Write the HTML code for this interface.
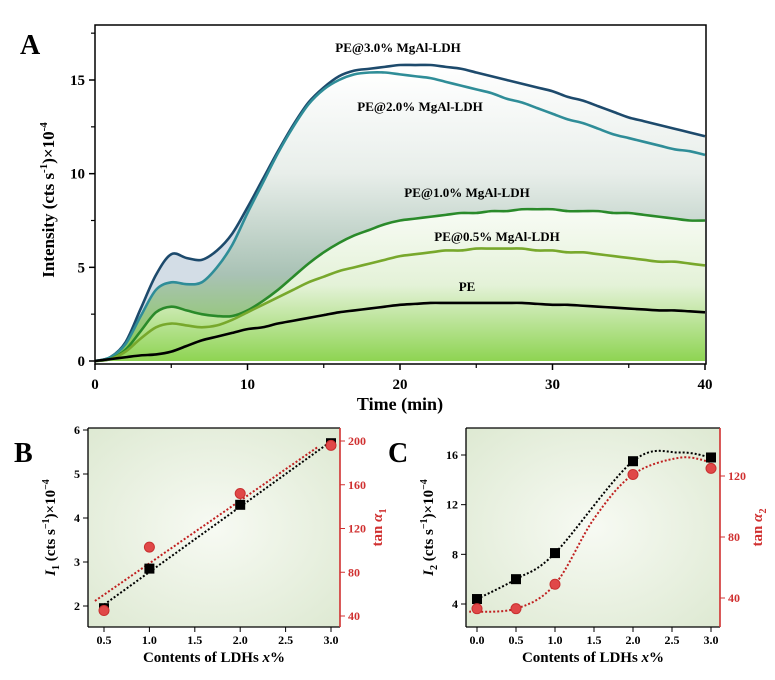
<!DOCTYPE html>
<html><head><meta charset="utf-8">
<style>
html,body{margin:0;padding:0;background:#fff;}
svg{display:block;font-family:"Liberation Serif",serif;font-weight:bold;}
</style></head>
<body>
<svg id="fig" width="775" height="680" viewBox="0 0 775 680">
<defs>
<linearGradient id="gA" x1="0" y1="0" x2="0" y2="1">
<stop offset="0" stop-color="#ffffff"/><stop offset="0.35" stop-color="#e8eeea"/>
<stop offset="0.7" stop-color="#a9c2b5"/><stop offset="1" stop-color="#86cc4c"/>
</linearGradient>
<linearGradient id="gB" x1="0" y1="0" x2="0" y2="1">
<stop offset="0" stop-color="#f8fbf5"/><stop offset="0.5" stop-color="#e4f2d8"/>
<stop offset="1" stop-color="#8ed452"/>
</linearGradient>
<radialGradient id="gP" cx="0.5" cy="0.5" r="0.75">
<stop offset="0" stop-color="#f7faf3"/><stop offset="1" stop-color="#dce8d0"/>
</radialGradient>
</defs>
<g id="A"></g>
<g id="B"></g>
<g id="C"></g>
</svg>
<script>
// Panel A data (time 0..40 min, step 1)
const timeA = Array.from({length:41},(_,i)=>i);
const s30 = [0,0.2,1.0,2.8,4.6,5.7,5.5,5.4,5.9,6.8,8.2,9.7,11.2,12.6,13.8,14.6,15.2,15.5,15.6,15.7,15.8,15.8,15.8,15.7,15.6,15.4,15.2,15.0,14.8,14.6,14.4,14.1,13.9,13.6,13.3,13.0,12.8,12.6,12.4,12.2,12.0];
const s20 = [0,0.2,0.9,2.4,3.8,4.2,4.1,4.2,5.0,6.2,7.9,9.5,11.1,12.5,13.7,14.5,15.0,15.3,15.4,15.4,15.3,15.2,15.1,14.9,14.7,14.5,14.3,14.0,13.8,13.5,13.2,12.9,12.7,12.4,12.1,11.9,11.7,11.5,11.3,11.2,11.0];
const s10 = [0,0.1,0.6,1.6,2.6,2.9,2.7,2.5,2.4,2.4,2.7,3.2,3.8,4.5,5.2,5.8,6.3,6.7,7.0,7.3,7.5,7.6,7.7,7.8,7.9,7.9,8.0,8.0,8.1,8.1,8.1,8.0,8.0,8.0,7.9,7.9,7.8,7.7,7.6,7.5,7.5];
const s05 = [0,0.1,0.5,1.2,1.8,2.0,1.9,1.8,1.9,2.2,2.6,3.0,3.4,3.8,4.2,4.5,4.8,5.0,5.2,5.4,5.6,5.7,5.8,5.9,5.9,6.0,6.0,6.0,6.0,5.9,5.9,5.8,5.8,5.7,5.6,5.5,5.4,5.3,5.3,5.2,5.1];
const sPE = [0,0.1,0.2,0.3,0.35,0.5,0.8,1.1,1.3,1.5,1.7,1.8,2.0,2.15,2.3,2.45,2.6,2.7,2.8,2.9,3.0,3.05,3.1,3.1,3.1,3.1,3.1,3.1,3.1,3.05,3.0,3.0,2.95,2.9,2.85,2.8,2.75,2.7,2.7,2.65,2.6];
const xTicksA = [0,10,20,30,40];
const yTicksA = [0,5,10,15];
// Panel B data
const contB = [0.5,1.0,2.0,3.0];
const i1B = [1.95,2.85,4.3,5.7];
const tanB = [45,103,152,196];
const xTicksB = [0.5,1.0,1.5,2.0,2.5,3.0];
const yTicksB = [2,3,4,5,6];
const rTicksB = [40,80,120,160,200];
// Panel C data
const contC = [0,0.5,1.0,2.0,3.0];
const i2C = [4.4,6.0,8.1,15.5,15.8];
const tanC = [33,33,49,121,125];
const xTicksC = [0.0,0.5,1.0,1.5,2.0,2.5,3.0];
const yTicksC = [4,8,12,16];
const rTicksC = [40,80,120];

const NS='http://www.w3.org/2000/svg';
function mk(parent,tag,attrs,text){const e=document.createElementNS(NS,tag);for(const k in attrs)e.setAttribute(k,attrs[k]);if(text!==undefined)e.textContent=text;parent.appendChild(e);return e;}
function lin(d0,d1,r0,r1){return v=>r0+(v-d0)*(r1-r0)/(d1-d0);}
function smooth(pts,noM){let d=(noM?' L':'M')+pts[0][0]+','+pts[0][1];for(let i=0;i<pts.length-1;i++){const p0=pts[Math.max(0,i-1)],p1=pts[i],p2=pts[i+1],p3=pts[Math.min(pts.length-1,i+2)];d+=' C'+(p1[0]+(p2[0]-p0[0])/6)+','+(p1[1]+(p2[1]-p0[1])/6)+' '+(p2[0]-(p3[0]-p1[0])/6)+','+(p2[1]-(p3[1]-p1[1])/6)+' '+p2[0]+','+p2[1];}return d;}

// ---------- Panel A ----------
(function(){
const g=document.getElementById('A');
const L=95,R=706,T=25,Bt=364;
const x=lin(0,40,95,705), y=lin(0,15,361,80);
const pts=s=>timeA.map((t,i)=>[x(t),y(s[i])]);
const area=(s,fill,name)=>{const p=pts(s);const e=mk(g,'path',{d:smooth(p)+' L'+x(40)+','+y(0)+' L'+x(0)+','+y(0)+' Z',fill:fill});

};
area(s30,'url(#gA)','fill-3pct');
// bluish band between 3.0% and 2.0% in early region
const upper=pts(s30).slice(0,11), lower=pts(s20).slice(0,11).reverse();
const band=mk(g,'path',{d:smooth(upper)+smooth(lower,true)+' Z',fill:'#d3dde6'});


area(s20,'url(#gA)','fill-2pct');
area(s10,'url(#gB)','fill-1pct');
const series=[[s30,'#1d4a6c','line-3pct'],[s20,'#2f8d98','line-2pct'],[s10,'#2a8a2a','line-1pct'],[s05,'#78a82c','line-05pct'],[sPE,'#000000','line-pe']];
series.forEach(([s,c,n])=>{const e=mk(g,'path',{d:smooth(pts(s)),fill:'none',stroke:c,'stroke-width':2.6});

});
mk(g,'rect',{x:L,y:T,width:R-L,height:Bt-T,fill:'none',stroke:'#000','stroke-width':1.5,});
xTicksA.forEach(v=>{mk(g,'line',{x1:x(v),x2:x(v),y1:Bt,y2:Bt+6,stroke:'#000','stroke-width':1.5});
const t=mk(g,'text',{x:x(v),y:Bt+25,'text-anchor':'middle','font-size':15},v);

});
[5,15,25,35].forEach(v=>mk(g,'line',{x1:x(v),x2:x(v),y1:Bt,y2:Bt+4,stroke:'#000','stroke-width':1.2}));
yTicksA.forEach(v=>{mk(g,'line',{x1:L,x2:L-6,y1:y(v),y2:y(v),stroke:'#000','stroke-width':1.5});
const t=mk(g,'text',{x:L-10,y:y(v)+5,'text-anchor':'end','font-size':15},v);

});
[2.5,7.5,12.5,17.5].forEach(v=>mk(g,'line',{x1:L,x2:L-4,y1:y(v),y2:y(v),stroke:'#000','stroke-width':1.2}));
mk(g,'text',{x:20,y:54,'font-size':28,},'A');
mk(g,'text',{x:400,y:410,'text-anchor':'middle','font-size':18,},'Time (min)');
const yt=mk(g,'text',{transform:'translate(54,200) rotate(-90)','text-anchor':'middle','font-size':17,});
yt.innerHTML='Intensity (cts s<tspan dy="-7" font-size="11">-1</tspan><tspan dy="7">)×10</tspan><tspan dy="-7" font-size="11">-4</tspan>';
[['PE@3.0% MgAl-LDH',398,52],['PE@2.0% MgAl-LDH',420,111],['PE@1.0% MgAl-LDH',467,197],['PE@0.5% MgAl-LDH',497,241],['PE',467,291]].forEach(([s,a,b])=>{
const t=mk(g,'text',{x:a,y:b,'text-anchor':'middle','font-size':13},s);

});
})();

// ---------- Panels B and C ----------
function panel(id,o){
const g=document.getElementById(id);
const {L,R,T,Bt}=o;
const x=lin(o.x0,o.x1,o.px0,o.px1), y=lin(o.y0,o.y1,o.py0,o.py1), yr=lin(o.r0,o.r1,o.pr0,o.pr1);
mk(g,'rect',{x:L,y:T,width:R-L,height:Bt-T,fill:'url(#gP)',});
o.fit(g,x,y,yr);
o.xs.forEach((v,i)=>{const e=mk(g,'rect',{x:x(v)-5,y:y(o.ys[i])-5,width:10,height:10,fill:'#000'});

});
o.xs.forEach((v,i)=>{const e=mk(g,'circle',{cx:x(v),cy:yr(o.rs[i]),r:5,fill:'#e04848',stroke:'#c83030','stroke-width':1});

});
mk(g,'line',{x1:L,x2:L,y1:T,y2:Bt,stroke:'#000','stroke-width':1.3});
mk(g,'line',{x1:L,x2:R,y1:Bt,y2:Bt,stroke:'#000','stroke-width':1.3});
mk(g,'line',{x1:L,x2:R,y1:T,y2:T,stroke:'#000','stroke-width':1.3});
mk(g,'line',{x1:R,x2:R,y1:T,y2:Bt,stroke:'#d03030','stroke-width':1.6,});
o.xt.forEach(v=>{mk(g,'line',{x1:x(v),x2:x(v),y1:Bt,y2:Bt+5,stroke:'#000'});
const t=mk(g,'text',{x:x(v),y:Bt+17,'text-anchor':'middle','font-size':12},v.toFixed(1));

});
o.yt.forEach(v=>{mk(g,'line',{x1:L,x2:L-5,y1:y(v),y2:y(v),stroke:'#000'});
const t=mk(g,'text',{x:L-8,y:y(v)+4,'text-anchor':'end','font-size':12},v);

});
o.rt.forEach(v=>{mk(g,'line',{x1:R,x2:R+5,y1:yr(v),y2:yr(v),stroke:'#d03030'});
const t=mk(g,'text',{x:R+8,y:yr(v)+4,'font-size':12,fill:'#d03030'},v);

});
mk(g,'text',{x:o.lx,y:462,'font-size':28,},o.label);
const xt=mk(g,'text',{x:(L+R)/2,y:Bt+35,'text-anchor':'middle','font-size':15,});
xt.innerHTML='Contents of LDHs <tspan font-style="italic">x</tspan>%';
const lt=mk(g,'text',{transform:'translate('+(L-33)+','+((T+Bt)/2)+') rotate(-90)','text-anchor':'middle','font-size':15,});
lt.innerHTML='<tspan font-style="italic">I</tspan><tspan dy="4" font-size="10">'+o.sub+'</tspan><tspan dy="-4"> (cts s</tspan><tspan dy="-6" font-size="10">−1</tspan><tspan dy="6">)×10</tspan><tspan dy="-6" font-size="10">−4</tspan>';
const rt=mk(g,'text',{transform:'translate('+(R+42)+','+((T+Bt)/2)+') rotate(-90)','text-anchor':'middle','font-size':15,fill:'#d03030',});
rt.innerHTML='tan <tspan font-style="italic">α</tspan><tspan dy="4" font-size="10">'+o.sub+'</tspan>';
}
function regress(xs,ys){const n=xs.length,mx=xs.reduce((a,b)=>a+b)/n,my=ys.reduce((a,b)=>a+b)/n;let sxy=0,sxx=0;xs.forEach((v,i)=>{sxy+=(v-mx)*(ys[i]-my);sxx+=(v-mx)*(v-mx);});const m=sxy/sxx;return v=>my+m*(v-mx);}
panel('B',{L:88,R:340,T:428,Bt:627,x0:0.5,x1:3,px0:104,px1:331,y0:2,y1:6,py0:606,py1:430,r0:40,r1:200,pr0:616,pr1:441,
xs:contB,ys:i1B,rs:tanB,xt:xTicksB,yt:yTicksB,rt:rTicksB,lx:14,label:'B',sub:'1',
fit:(g,x,y,yr)=>{const f=regress(contB,i1B),h=regress(contB,tanB);
const a=mk(g,'line',{x1:x(0.5),y1:y(f(0.5)),x2:x(3.0),y2:y(f(3.0)),stroke:'#000','stroke-width':2,'stroke-dasharray':'2,2'});


const b=mk(g,'line',{x1:x(0.4),y1:yr(h(0.4)),x2:x(2.85),y2:yr(h(2.85)),stroke:'#c02020','stroke-width':2,'stroke-dasharray':'2,2'});

}});
panel('C',{L:466,R:720,T:428,Bt:627,x0:0,x1:3,px0:477,px1:711,y0:4,y1:16,py0:604,py1:455,r0:40,r1:120,pr0:598,pr1:476,
xs:contC,ys:i2C,rs:tanC,xt:xTicksC,yt:yTicksC,rt:rTicksC,lx:388,label:'C',sub:'2',
fit:(g,x,y,yr)=>{
const pk=[[x(0),y(i2C[0])],[x(0.5),y(i2C[1])],[x(1),y(i2C[2])],[x(2),y(i2C[3])],[x(2.6),y(16.2)],[x(3),y(i2C[4])]];
const a=mk(g,'path',{d:smooth(pk),fill:'none',stroke:'#000','stroke-width':2,'stroke-dasharray':'2,2'});


const pr=[[x(-0.1),yr(31)],[x(0.5),yr(tanC[1])],[x(1),yr(tanC[2])],[x(1.5),yr(92)],[x(2),yr(tanC[3])],[x(2.6),yr(132)],[x(3),yr(129)]];
const b=mk(g,'path',{d:smooth(pr),fill:'none',stroke:'#c02020','stroke-width':2,'stroke-dasharray':'2,2'});

}});
</script>
</body></html>
